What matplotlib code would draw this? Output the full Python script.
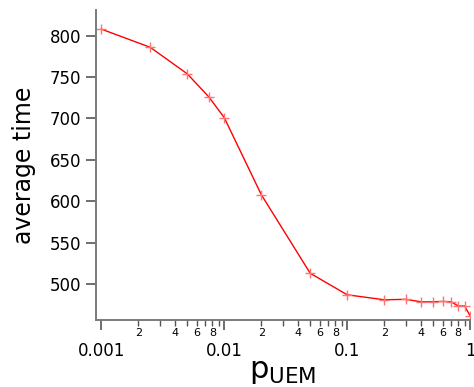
import math
import matplotlib
matplotlib.use('Agg')
import matplotlib.pyplot as plt
from matplotlib.ticker import FixedLocator, FuncFormatter

# p_UEM values and average time
p_uem = [0.001, 0.0025, 0.005, 0.0075, 0.01, 0.02, 0.05, 0.1,
         0.2, 0.3, 0.4, 0.5, 0.6, 0.7, 0.8, 0.9, 1.0]
avg_time = [808, 786, 754, 726, 701, 608, 513, 487,
            481, 481.5, 478.5, 478.5, 479, 478.5, 473.5, 473.5, 461.5]

major_x = [0.001, 0.01, 0.1, 1]
major_x_labels = ['0.001', '0.01', '0.1', '1']
y_ticks = [500, 550, 600, 650, 700, 750, 800]

fig = plt.figure(figsize=(4.74, 3.87), dpi=100)
ax = fig.add_axes([0.2015, 0.173, 0.7905, 0.801])

ax.plot(p_uem, avg_time, color='red', linewidth=1.0, marker='+',
        markersize=7, markeredgewidth=1.0, markeredgecolor=(1, 0.45, 0.45))

ax.set_xscale('log')
ax.set_xlim(10 ** -3.047, 1.0)
ax.set_ylim(456.5, 831)

# spines
for s in ['top', 'right']:
    ax.spines[s].set_visible(False)
for s in ['left', 'bottom']:
    ax.spines[s].set_color('#7a7a7a')
    ax.spines[s].set_linewidth(1.4)

# ticks
ax.set_yticks(y_ticks)
ax.set_xticks(major_x)
ax.set_xticklabels(major_x_labels)
minor_x = [m * d for d in [0.001, 0.01, 0.1] for m in range(2, 10)]
ax.xaxis.set_minor_locator(FixedLocator(minor_x))


def minor_fmt(v, pos):
    m = round(v / 10 ** math.floor(math.log10(v) + 1e-9))
    return str(m) if m in (2, 4, 6, 8) else ''


ax.xaxis.set_minor_formatter(FuncFormatter(minor_fmt))
ax.tick_params(axis='both', which='major', direction='out', length=7, width=1.2,
               color='#555555', labelsize=12)
ax.tick_params(axis='x', which='major', pad=9)
ax.tick_params(axis='x', which='minor', direction='out', length=4, width=1.0,
               color='#555555', labelsize=8, pad=2)

ax.set_ylabel('average time', fontsize=17, labelpad=10)
ax.set_xlabel(r'$\mathregular{p_{UEM}}$', fontsize=22, labelpad=-2)

plt.savefig('out.png', dpi=100)
